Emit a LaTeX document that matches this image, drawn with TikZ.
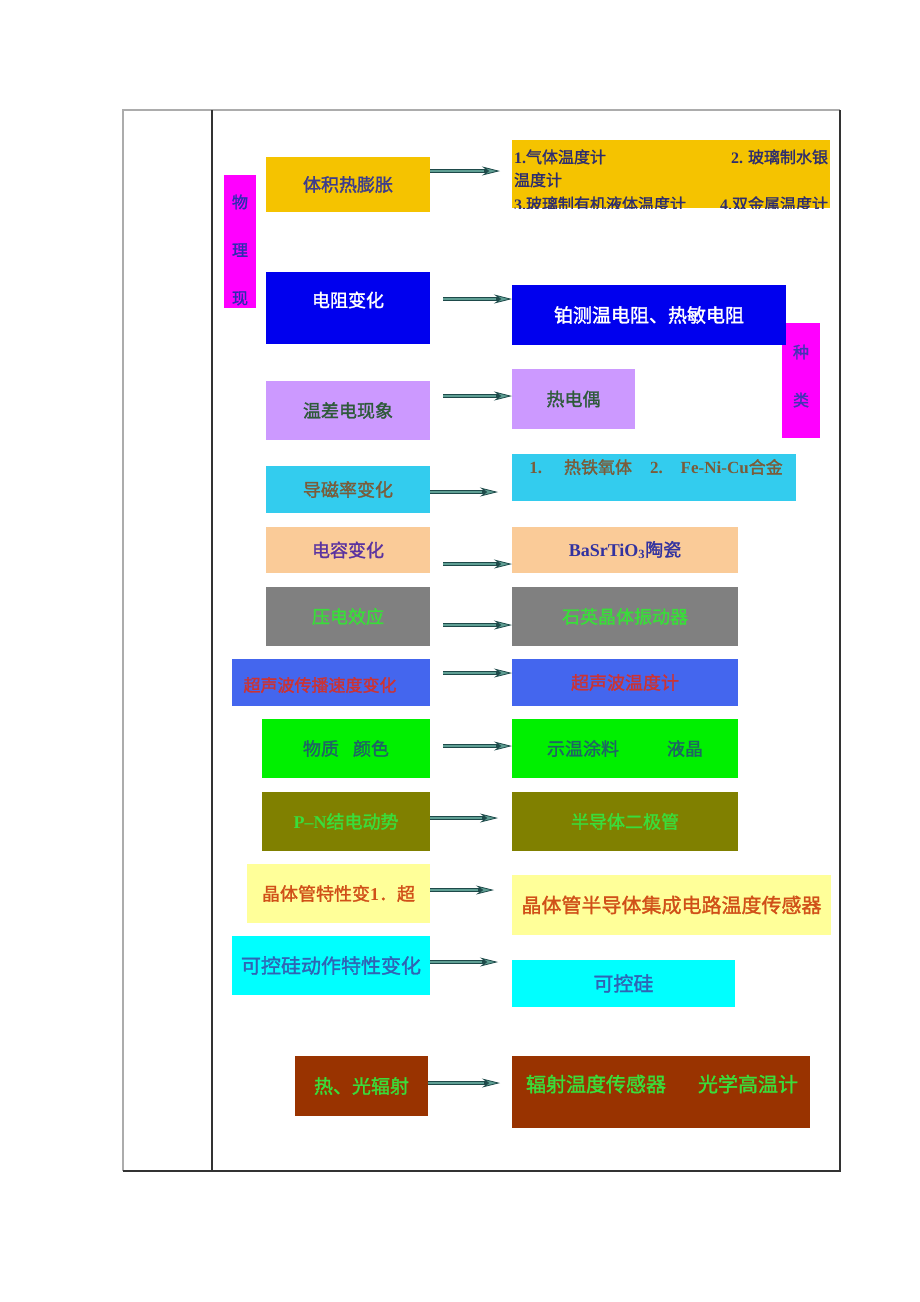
\documentclass[tikz,border=0pt]{standalone}
\usepackage{fontspec}
\setmainfont{Noto Sans CJK SC}[BoldFont={Noto Sans CJK SC}, BoldFeatures={FakeBold=1.6}]
\newfontfamily\tm{Liberation Serif}
\usetikzlibrary{arrows.meta}
\definecolor{cgold}{HTML}{F5C300}
\definecolor{cblue}{HTML}{0000EE}
\definecolor{clav}{HTML}{CC99FF}
\definecolor{csky}{HTML}{33CCEE}
\definecolor{cpeach}{HTML}{FACB98}
\definecolor{cgray}{HTML}{808080}
\definecolor{croyal}{HTML}{4466EE}
\definecolor{cgreen}{HTML}{00F000}
\definecolor{colive}{HTML}{808000}
\definecolor{cly}{HTML}{FFFF99}
\definecolor{ccyan}{HTML}{00FFFF}
\definecolor{cbrown}{HTML}{993300}
\definecolor{cmag}{HTML}{FF00FF}
\definecolor{adark}{HTML}{1E4A4A}
\definecolor{alight}{HTML}{5F9F94}
\definecolor{tnavy}{HTML}{2D2D6E}
\definecolor{tslate}{HTML}{3C3C8C}
\definecolor{tdgreen}{HTML}{2E5A3A}
\definecolor{tbrown}{HTML}{7A5C3A}
\definecolor{tpurple}{HTML}{5A32A0}
\definecolor{tindigo}{HTML}{3232A0}
\definecolor{tlgreen}{HTML}{3ADD3A}
\definecolor{tred}{HTML}{CC3333}
\definecolor{tteal}{HTML}{1F6464}
\definecolor{torange}{HTML}{D05018}
\definecolor{tblue}{HTML}{2F64B4}
\definecolor{tmagtxt1}{HTML}{2C2CB0}
\definecolor{tmagtxt2}{HTML}{4434B4}
\tikzset{
  box/.style={rectangle, inner sep=0pt, outer sep=0pt, draw=none, align=center},
  fa/.style={font=\fontsize{16}{16}\selectfont\bfseries},
  fb/.style={font=\fontsize{18}{18}\selectfont\bfseries},
  fc/.style={font=\fontsize{20}{20}\selectfont\bfseries},
  txt/.style={inner sep=0pt, outer sep=0pt},
  arr/.style 2 args={draw=adark, line width=3.6pt, shorten <=#1, shorten >=#2,
    -{Stealth[length=18pt,width=9pt,inset=6pt,fill=alight,line width=0.8pt]},
    postaction={draw=alight, line width=1.4pt, -, shorten >=#2+16pt}},
  tbl/.style={line width=1.5pt}
}
\begin{document}
\begin{tikzpicture}[x=1pt,y=-1pt]
\useasboundingbox (0,0) rectangle (920,1302);
\fill[white] (0,0) rectangle (920,1302);
% table
\draw[tbl, gray!65] (123,1171) -- (123,110) -- (840,110);
\draw[tbl, black!80] (840,110) -- (840,1171) -- (123,1171);
\draw[tbl, black!80] (212,110) -- (212,1171);

% vertical magenta labels
\node[box, fill=cmag, minimum width=32pt, minimum height=133pt] (M1) at (240,241.5) {};
\node[txt, text=tmagtxt1, align=center, font=\fontsize{16}{48}\selectfont\bfseries] (M1t) at (240,250) {物\\理\\现};
\node[box, fill=cmag, minimum width=38pt, minimum height=115pt] (M2) at (801,380.5) {};
\node[txt, text=tmagtxt2, align=center, font=\fontsize{16}{48}\selectfont\bfseries] (M2t) at (801,376) {种\\类};

% row 1
\node[box, fb, fill=cgold, text=tslate, minimum width=164pt, minimum height=55pt] (L1) at (348,184.5) {体积热膨胀};
\node[box, fill=cgold, minimum width=318pt, minimum height=68pt] (R1) at (671,174) {};
\begin{scope}
\clip (R1.south west) rectangle (R1.north east);
\node[txt, fa, text=tnavy, anchor=base west] (r1a) at (514,163) {{\tm\bfseries 1.}气体温度计};
\node[txt, fa, text=tnavy, anchor=base east] (r1b) at (828,163) {{\tm\bfseries 2.} 玻璃制水银};
\node[txt, fa, text=tnavy, anchor=base west] (r1c) at (514,186) {温度计};
\node[txt, fa, text=tnavy, anchor=base west] (r1d) at (514,210) {{\tm\bfseries 3.}玻璃制有机液体温度计};
\node[txt, fa, text=tnavy, anchor=base east] (r1e) at (828,210) {{\tm\bfseries 4.}双金属温度计};
\end{scope}
\draw[arr={0pt}{12pt}] (L1.east |- 0,171) -- (R1.west |- 0,171);

% row 2
\node[box, fill=cblue, minimum width=164pt, minimum height=72pt] (L2) at (348,308) {};
\node[txt, fb, text=white] (L2t) at (348,300) {电阻变化};
\node[box, fill=cblue, text=white, font=\fontsize{19}{19}\selectfont\bfseries, minimum width=274pt, minimum height=60pt] (R2) at (649,315) {铂测温电阻、热敏电阻};
\draw[arr={13pt}{0pt}] (L2.east |- 0,299) -- (R2.west |- 0,299);

% row 3
\node[box, fb, fill=clav, text=tdgreen, minimum width=164pt, minimum height=59pt] (L3) at (348,410.5) {温差电现象};
\node[box, fb, fill=clav, text=tdgreen, minimum width=123pt, minimum height=60pt] (R3) at (573.5,399) {热电偶};
\draw[arr={13pt}{0pt}] (L3.east |- 0,396) -- (R3.west |- 0,396);

% row 4
\node[box, fb, fill=csky, text=tbrown, minimum width=164pt, minimum height=47pt] (L4) at (348,489.5) {导磁率变化};
\node[box, fill=csky, minimum width=284pt, minimum height=47pt] (R4) at (654,477.5) {};
\node[txt, text=tbrown, font=\fontsize{17}{17}\selectfont\bfseries] (R4t) at (656,467) {{\tm\bfseries 1.}\hspace{22pt}热铁氧体\hspace{18pt}{\tm\bfseries 2.}\hspace{18pt}{\tm\bfseries Fe-Ni-Cu}合金};
\draw[arr={0pt}{14pt}] (L4.east |- 0,492) -- (R4.west |- 0,492);

% row 5
\node[box, fb, fill=cpeach, text=tpurple, minimum width=164pt, minimum height=46pt] (L5) at (348,550) {电容变化};
\node[box, fb, fill=cpeach, text=tindigo, minimum width=226pt, minimum height=46pt] (R5) at (625,550) {{\tm\bfseries BaSrTiO\textsubscript{3}}陶瓷};
\draw[arr={13pt}{0pt}] (L5.east |- 0,564) -- (R5.west |- 0,564);

% row 6
\node[box, fb, fill=cgray, text=tlgreen, minimum width=164pt, minimum height=59pt] (L6) at (348,616.5) {压电效应};
\node[box, fb, fill=cgray, text=tlgreen, minimum width=226pt, minimum height=59pt] (R6) at (625,616.5) {石英晶体振动器};
\draw[arr={13pt}{0pt}] (L6.east |- 0,625) -- (R6.west |- 0,625);

% row 7
\node[box, fill=croyal, minimum width=198pt, minimum height=47pt] (L7) at (331,682.5) {};
\node[txt, text=tred, font=\fontsize{17}{17}\selectfont\bfseries] (L7t) at (320,685) {超声波传播速度变化};
\node[box, fb, fill=croyal, text=tred, minimum width=226pt, minimum height=47pt] (R7) at (625,682.5) {超声波温度计};
\draw[arr={13pt}{0pt}] (L7.east |- 0,673) -- (R7.west |- 0,673);

% row 8
\node[box, fb, fill=cgreen, text=tteal, minimum width=168pt, minimum height=59pt] (L8) at (346,748.5) {物质\hspace{14pt}颜色};
\node[box, fb, fill=cgreen, text=tteal, minimum width=226pt, minimum height=59pt] (R8) at (625,748.5) {示温涂料\hspace{48pt}液晶};
\draw[arr={13pt}{0pt}] (L8.east |- 0,746) -- (R8.west |- 0,746);

% row 9
\node[box, fb, fill=colive, text=tlgreen, minimum width=168pt, minimum height=59pt] (L9) at (346,821.5) {{\tm\bfseries P–N}结电动势};
\node[box, fb, fill=colive, text=tlgreen, minimum width=226pt, minimum height=59pt] (R9) at (625,821.5) {半导体二极管};
\draw[arr={0pt}{14pt}] (L9.east |- 0,818) -- (R9.west |- 0,818);

% row 10
\node[box, fb, fill=cly, text=torange, minimum width=183pt, minimum height=59pt] (L10) at (338.5,893.5) {晶体管特性变{\tm\bfseries 1}．超};
\node[box, fc, fill=cly, text=torange, minimum width=319pt, minimum height=60pt] (R10) at (671.5,905) {晶体管半导体集成电路温度传感器};
\draw[arr={0pt}{18pt}] (L10.east |- 0,890) -- (R10.west |- 0,890);

% row 11
\node[box, fc, fill=ccyan, text=tblue, minimum width=198pt, minimum height=59pt] (L11) at (331,965.5) {可控硅动作特性变化};
\node[box, fc, fill=ccyan, text=tblue, minimum width=223pt, minimum height=47pt] (R11) at (623.5,983.5) {可控硅};
\draw[arr={0pt}{14pt}] (L11.east |- 0,962) -- (R11.west |- 0,962);

% row 12
\node[box, fill=cbrown, text=tlgreen, font=\fontsize{19}{19}\selectfont\bfseries, minimum width=133pt, minimum height=60pt] (L12) at (361.5,1086) {热、光辐射};
\node[box, fill=cbrown, minimum width=298pt, minimum height=72pt] (R12) at (661,1092) {};
\node[txt, fc, text=tlgreen] (R12t) at (662,1084) {辐射温度传感器\hspace{32pt}光学高温计};
\draw[arr={0pt}{12pt}] (L12.east |- 0,1083) -- (R12.west |- 0,1083);
\end{tikzpicture}
\end{document}
